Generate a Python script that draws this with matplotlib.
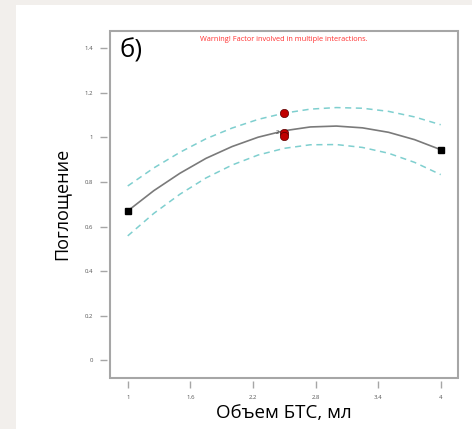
import matplotlib.pyplot as plt
from matplotlib.patches import Rectangle

plt.rcParams['font.family'] = ['Open Sans', 'DejaVu Sans']

# model line and 95% confidence band
x_fit = [1.0, 1.25, 1.5, 1.75, 2.0, 2.25, 2.5, 2.75, 3.0, 3.25, 3.5, 3.75, 4.0]
y_fit = [0.670, 0.761, 0.839, 0.906, 0.959, 1.001, 1.030, 1.047, 1.051, 1.043, 1.023, 0.990, 0.945]
y_upper = [0.782, 0.863, 0.933, 0.994, 1.042, 1.081, 1.109, 1.127, 1.134, 1.131, 1.117, 1.092, 1.057]
y_lower = [0.558, 0.659, 0.745, 0.818, 0.876, 0.921, 0.951, 0.967, 0.968, 0.955, 0.929, 0.888, 0.833]

# design points
x_center = [2.5, 2.5, 2.5]
y_center = [1.11, 1.02, 1.005]
x_axial = [1.0, 4.0]
y_axial = [0.67, 0.944]

xticks = [1, 1.6, 2.2, 2.8, 3.4, 4]
xtick_labels = ["1", "1.6", "2.2", "2.8", "3.4", "4"]
yticks = [0, 0.2, 0.4, 0.6, 0.8, 1.0, 1.2, 1.4]
ytick_labels = ["0", "0.2", "0.4", "0.6", "0.8", "1", "1.2", "1.4"]

fig = plt.figure(figsize=(4.72, 4.29), dpi=100)
fig.patch.set_facecolor('#f2efec')
fig.patches.append(Rectangle((16 / 472, 0), 1, 1 - 5 / 429, transform=fig.transFigure,
                             facecolor='white', edgecolor='none', zorder=-1))

ax = fig.add_axes([110 / 472, 51 / 429, 348 / 472, 347.5 / 429])
ax.set_xlim(0.83, 4.166)
ax.set_ylim(-0.08, 1.48)

ax.plot(x_fit, y_upper, color='#7fcfcf', lw=1.1, dashes=(4, 3))
ax.plot(x_fit, y_lower, color='#7fcfcf', lw=1.1, dashes=(4, 3))
ax.plot(x_fit, y_fit, color='#7a7a7a', lw=1.2, solid_joinstyle='round')
ax.plot(x_axial, y_axial, 's', color='black', ms=5, zorder=5)
ax.plot(x_center, y_center, 'o', color='#c00000', mec='#5a0000', mew=0.5, ms=6, zorder=5)
ax.text(2.45, 1.02, "2", fontsize=4, color='#333333', ha='right', va='center')

# frame drawn separately so ticks sit slightly off the box
for s in ax.spines.values():
    s.set_visible(False)
ax.spines['left'].set_position(('outward', 2))
ax.spines['bottom'].set_position(('outward', 2))
ax.add_patch(Rectangle((0, 0), 1, 1, transform=ax.transAxes, fill=False,
                       edgecolor='#a6a6a6', lw=1.5, clip_on=False))

ax.set_xticks(xticks)
ax.set_xticklabels(xtick_labels)
ax.set_yticks(yticks)
ax.set_yticklabels(ytick_labels)
ax.tick_params(axis='both', direction='out', length=5, width=1, color='#a6a6a6',
               labelsize=4.3, labelcolor='#555555', pad=5)

ax.text(0.028, 0.978, "б)", transform=ax.transAxes, fontsize=18.5, ha='left', va='top')
ax.text(0.5, 0.985, "Warning! Factor involved in multiple interactions.", transform=ax.transAxes,
        fontsize=5.3, color='#ff3030', ha='center', va='top')

ax.set_xlabel("Объем БТС, мл", fontsize=13.5, labelpad=3)
ax.set_ylabel("Поглощение", fontsize=13, labelpad=10)

fig.savefig("out.png", dpi=100)
